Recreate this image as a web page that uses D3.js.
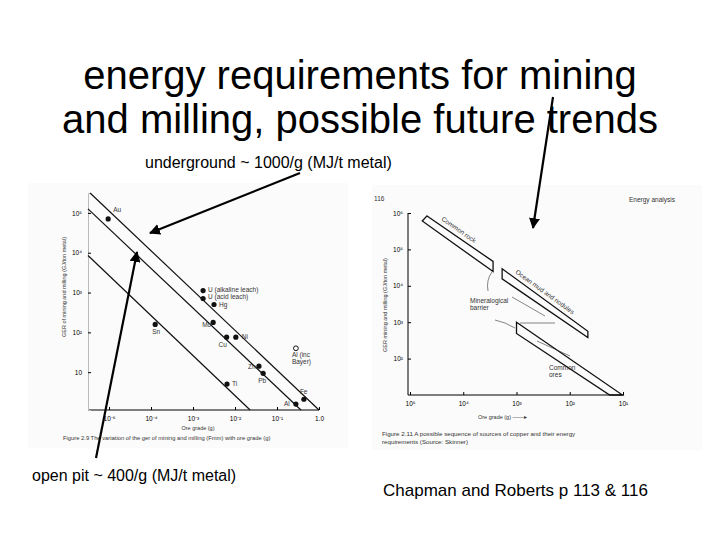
<!DOCTYPE html>
<html><head><meta charset="utf-8">
<script src="https://cdn.jsdelivr.net/npm/d3@7"></script>
<style>body{margin:0;background:#fff}text{font-family:"Liberation Sans",Arial,sans-serif}</style>
</head><body><svg id="slide" width="720" height="540"></svg>
<script>
// left figure: ore grade (log10 g) vs GER (log10 MJ/t)
var metals = ["Au", "U (alkaline leach)", "U (acid leach)", "Hg", "Mo", "Cu", "Ni", "Sn", "Zn", "Pb", "Ti", "Fe", "Al"];
var metalGrade = [-5.02, -2.76, -2.76, -2.5, -2.52, -2.2, -1.98, -3.9, -1.43, -1.33, -2.19, -0.36, -0.55];
var metalGer = [4.85, 3.05, 2.85, 2.7, 2.25, 1.88, 1.88, 2.2, 1.15, 0.97, 0.7, 0.32, 0.2];
var bauxite = {grade: -0.55, ger: 1.6};
// trend lines [x0, y0, x1, y1] in log units
var trendLines = [[-5.45, 5.5, 0, 0.05], [-5.5, 5.1, -0.43, 0.05], [-5.5, 3.93, -1.64, 0.05]];
var leftXTicks = [-5, -4, -3, -2, -1, 0];
var leftXLabels = ["10⁻⁵", "10⁻⁴", "10⁻³", "10⁻²", "10⁻¹", "1.0"];
var leftYTicks = [1, 2, 3, 4, 5];
var leftYLabels = ["10", "10²", "10³", "10⁴", "10⁵"];

// right figure: decade index vs log10 GER, bands as polygons
var rightXLabels = ["10⁵", "10⁴", "10³", "10²", "10¹"];
var rightYTicks = [2, 3, 4, 5, 6];
var rightYLabels = ["10²", "10³", "10⁴", "10⁵", "10⁶"];
var bands = [
  {name: "Common rock", pts: [[0.32, 5.92], [1.56, 4.67], [1.56, 4.39], [0.23, 5.78]]},
  {name: "Ocean mud and nodules", pts: [[1.73, 4.47], [3.34, 2.75], [3.34, 2.58], [1.73, 4.19]]},
  {name: "Common ores", pts: [[2.0, 3.0], [3.99, 1.0], [3.75, 1.0], [2.0, 2.69]]}
];

var svg = d3.select("#slide");

// title
svg.append("text").attr("x", 360).attr("y", 89).attr("text-anchor", "middle")
  .attr("font-size", 40).text("energy requirements for mining");
svg.append("text").attr("x", 360).attr("y", 133).attr("text-anchor", "middle")
  .attr("font-size", 40).text("and milling, possible future trends");

// ---- left chart
var lx = d3.scaleLinear().domain([-5.5, 0]).range([88, 319]);
var ly = d3.scaleLinear().domain([0.05, 5.5]).range([410, 193]);
var L = svg.append("g").attr("font-size", 6.5).attr("fill", "#333");
L.append("rect").attr("x", 28).attr("y", 183).attr("width", 320).attr("height", 265).attr("fill", "#fbfbfb");
L.append("g").attr("transform", "translate(0,410)")
  .call(d3.axisBottom(lx).tickValues(leftXTicks).tickSize(-3).tickFormat(function(d, i) { return leftXLabels[i]; }))
  .call(function(g) { g.select(".domain").attr("d", "M88,0H319"); g.selectAll("text").attr("dy", 8).attr("font-size", 6.5); });
L.append("g").attr("transform", "translate(88,0)")
  .call(d3.axisLeft(ly).tickValues(leftYTicks).tickSize(-3).tickFormat(function(d, i) { return leftYLabels[i]; }))
  .call(function(g) { g.select(".domain").attr("stroke", "#bbb"); g.selectAll("text").attr("font-size", 6.5).attr("x", -6); });
L.selectAll("line.trend").data(trendLines).enter().append("line").attr("class", "trend")
  .attr("x1", function(d) { return lx(d[0]); }).attr("y1", function(d) { return ly(d[1]); })
  .attr("x2", function(d) { return lx(d[2]); }).attr("y2", function(d) { return ly(d[3]); })
  .attr("stroke", "#111").attr("stroke-width", 1.2);
L.selectAll("circle.m").data(metals).enter().append("circle").attr("class", "m")
  .attr("cx", function(d, i) { return lx(metalGrade[i]); }).attr("cy", function(d, i) { return ly(metalGer[i]); })
  .attr("r", 2.6).attr("fill", "#111");
var lblOff = {"Au": [5, -7], "U (alkaline leach)": [5, 1], "U (acid leach)": [5, 0], "Hg": [5, 3], "Mo": [-11, 5],
  "Cu": [-8, 10], "Ni": [6, 2], "Sn": [-3, 10], "Zn": [-11, 3], "Pb": [-5, 10], "Ti": [5, 2], "Fe": [-4, -5], "Al": [-12, 2]};
L.selectAll("text.ml").data(metals).enter().append("text").attr("class", "ml")
  .attr("x", function(d, i) { return lx(metalGrade[i]) + lblOff[d][0]; })
  .attr("y", function(d, i) { return ly(metalGer[i]) + lblOff[d][1]; }).text(function(d) { return d; });
L.append("circle").attr("cx", lx(bauxite.grade)).attr("cy", ly(bauxite.ger)).attr("r", 2.4)
  .attr("fill", "none").attr("stroke", "#111");
L.append("text").attr("x", lx(bauxite.grade) - 4).attr("y", ly(bauxite.ger) + 9).text("Al (inc");
L.append("text").attr("x", lx(bauxite.grade) - 4).attr("y", ly(bauxite.ger) + 16).text("Bayer)");
L.append("text").attr("x", 84).attr("y", 305).attr("text-anchor", "middle").attr("font-size", 5.5)
  .attr("transform", "rotate(-90,66,305)").text("GER of mining and milling (GJ/ton metal)");
L.append("text").attr("x", 198).attr("y", 430).attr("text-anchor", "middle").attr("font-size", 5.5).text("Ore grade (g)");
L.append("text").attr("x", 63).attr("y", 440).attr("font-size", 5.8)
  .text("Figure 2.9  The variation of the ger of mining and milling (Fmm) with ore grade (g)");

// ---- right chart
var rx = d3.scaleLinear().domain([0, 4]).range([410, 623]);
var ry = d3.scaleLinear().domain([1, 6]).range([395, 213]);
var R = svg.append("g").attr("font-size", 6.5).attr("fill", "#333");
R.append("rect").attr("x", 372).attr("y", 185).attr("width", 330).attr("height", 265).attr("fill", "#fbfbfb");
R.append("g").attr("transform", "translate(0,395)")
  .call(d3.axisBottom(rx).ticks(5).tickSize(-3).tickFormat(function(d, i) { return rightXLabels[i]; }))
  .call(function(g) { g.select(".domain").attr("d", "M408,0H623"); g.selectAll("text").attr("dy", 8).attr("font-size", 6.5); });
R.append("g").attr("transform", "translate(408,0)")
  .call(d3.axisLeft(ry).tickValues(rightYTicks).tickSize(-3).tickFormat(function(d, i) { return rightYLabels[i]; }))
  .call(function(g) { g.select(".domain").attr("d", "M0,213V395"); g.selectAll("text").attr("font-size", 6.5).attr("x", -5); });
var line = d3.line().x(function(d) { return rx(d[0]); }).y(function(d) { return ry(d[1]); });
R.selectAll("path.band").data(bands).enter().append("path").attr("class", "band")
  .attr("d", function(d) { return line(d.pts) + "Z"; })
  .attr("fill", "none").attr("stroke", "#111").attr("stroke-width", 1.3);
R.append("text").attr("x", 441).attr("y", 220).attr("transform", "rotate(35,441,220)").text("Common rock");
R.append("text").attr("x", 515).attr("y", 273).attr("transform", "rotate(36,515,273)").text("Ocean mud and nodules");
R.append("text").attr("x", 549).attr("y", 370).text("Common");
R.append("text").attr("x", 549).attr("y", 377).text("ores");
R.append("text").attr("x", 470).attr("y", 303).text("Mineralogical");
R.append("text").attr("x", 470).attr("y", 310).text("barrier");
R.append("path").attr("d", "M488,291 Q486,280 492,272").attr("fill", "none").attr("stroke", "#333").attr("stroke-width", 0.6);
R.append("path").attr("d", "M495,320 Q505,322 515,328").attr("fill", "none").attr("stroke", "#333").attr("stroke-width", 0.6);
R.append("path").attr("d", "M520,323 H555").attr("fill", "none").attr("stroke", "#333").attr("stroke-width", 0.6);
R.append("path").attr("d", "M545,316 L512,297").attr("stroke", "#333").attr("stroke-width", 0.6);
R.append("path").attr("d", "M570,356 L537,341").attr("stroke", "#333").attr("stroke-width", 0.6);
R.append("text").attr("x", 374).attr("y", 201).text("116");
R.append("text").attr("x", 629).attr("y", 202).attr("font-size", 6.5).text("Energy analysis");
R.append("text").attr("x", 387).attr("y", 305).attr("text-anchor", "middle").attr("font-size", 5.5)
  .attr("transform", "rotate(-90,387,305)").text("GER mining and milling (GJ/ton metal)");
R.append("text").attr("x", 478).attr("y", 419).attr("font-size", 5.5).text("Ore grade (g) ——▸");
R.append("text").attr("x", 382).attr("y", 436).attr("font-size", 6.2)
  .text("Figure 2.11  A possible sequence of sources of copper and their energy");
R.append("text").attr("x", 382).attr("y", 444).attr("font-size", 6.2)
  .text("requirements (Source: Skinner)");

// ---- annotations and arrows
svg.append("text").attr("x", 145).attr("y", 168).attr("font-size", 16).text("underground ~ 1000/g (MJ/t metal)");
svg.append("text").attr("x", 32).attr("y", 481).attr("font-size", 16).text("open pit ~ 400/g (MJ/t metal)");
svg.append("text").attr("x", 383).attr("y", 496).attr("font-size", 17).text("Chapman and Roberts p 113 & 116");
svg.append("defs").append("marker").attr("id", "ah").attr("viewBox", "0 0 10 10").attr("refX", 9).attr("refY", 5)
  .attr("markerWidth", 5).attr("markerHeight", 5).attr("orient", "auto")
  .append("path").attr("d", "M0,0L10,5L0,10Z").attr("fill", "#000");
var arrows = [[300, 173, 150, 233], [96, 458, 137, 252], [553, 97, 533, 228]];
svg.selectAll("line.arr").data(arrows).enter().append("line").attr("class", "arr")
  .attr("x1", function(d) { return d[0]; }).attr("y1", function(d) { return d[1]; })
  .attr("x2", function(d) { return d[2]; }).attr("y2", function(d) { return d[3]; })
  .attr("stroke", "#000").attr("stroke-width", 2.2).attr("marker-end", "url(#ah)");
</script></body></html>
